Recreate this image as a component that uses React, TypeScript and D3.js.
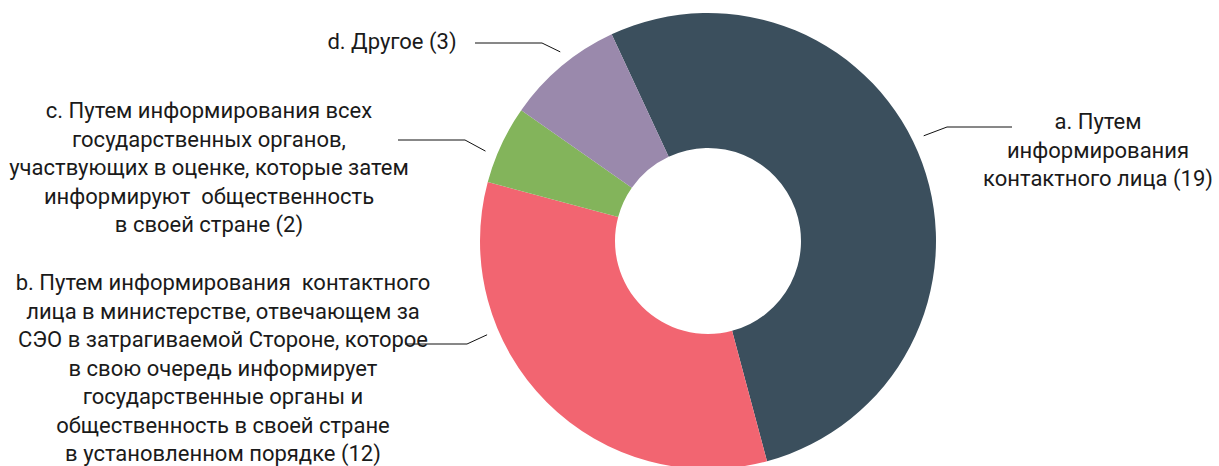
import * as React from "react";
import * as d3 from "d3";

// chart values
const categories = ["a", "b", "c", "d"];
const counts = [19, 12, 2, 3];
const colors = ["#3b4f5d", "#f26571", "#83b45b", "#9a89ac"];
const labelLines = [
  ["a. Путем", "информирования", "контактного лица (19)"],
  [
    "b. Путем информирования  контактного",
    "лица в министерстве, отвечающем за",
    "СЭО в затрагиваемой Стороне, которое",
    "в свою очередь информирует",
    "государственные органы и",
    "общественность в своей стране",
    "в установленном порядке (12)",
  ],
  [
    "с. Путем информирования всех",
    "государственных органов,",
    "участвующих в оценке, которые затем",
    "информируют  общественность",
    "в своей стране (2)",
  ],
  ["d. Другое (3)"],
];

// label placement (leader tip angle in degrees, elbow, horizontal end, text block)
const layout = [
  { tip: 64, elbow: [947, 127], end: 1012, tx: 1098, ty: 129 },
  { tip: 247, elbow: [467, 344], end: 405, tx: 223, ty: 290 },
  { tip: -68, elbow: [465, 140], end: 398, tx: 209, ty: 118 },
  { tip: -38, elbow: [542, 43], end: 475, tx: 392, ty: 49 },
];

const W = 1219;
const H = 466;
const cx = 708;
const cy = 241;
const outerR = 228;
const innerR = 93;
const lineH = 28.5;
const rad = Math.PI / 180;

export default function App() {
  const pie = d3
    .pie<number>()
    .sort(null)
    .startAngle(-25 * rad)
    .endAngle(335 * rad);
  const arcs = pie(counts);
  const arc = d3.arc<d3.PieArcDatum<number>>().innerRadius(innerR).outerRadius(outerR);

  return (
    <svg
      width={W}
      height={H}
      style={{ position: "absolute", left: 0, top: 0, background: "#fff" }}
      fontFamily="Roboto, 'Noto Sans', sans-serif"
    >
      <g transform={`translate(${cx},${cy})`}>
        {arcs.map((a, i) => (
          <path key={categories[i]} d={arc(a) || ""} fill={colors[i]} />
        ))}
      </g>
      {layout.map((l, i) => {
        const tx = cx + 240 * Math.sin(l.tip * rad);
        const ty = cy - 240 * Math.cos(l.tip * rad);
        const pts = `${tx},${ty} ${l.elbow[0]},${l.elbow[1]} ${l.end},${l.elbow[1]}`;
        return (
          <g key={categories[i]}>
            <polyline points={pts} fill="none" stroke="#111" strokeWidth={1} />
            <text
              x={l.tx}
              y={l.ty}
              textAnchor="middle"
              fontSize={22}
              fill="#1a1a1a"
              style={{ whiteSpace: "pre" }}
            >
              {labelLines[i].map((s, j) => (
                <tspan key={j} x={l.tx} y={l.ty + j * lineH}>
                  {s}
                </tspan>
              ))}
            </text>
          </g>
        );
      })}
    </svg>
  );
}
